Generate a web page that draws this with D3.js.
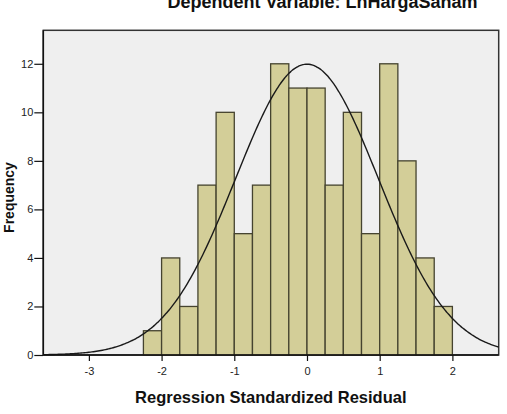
<!DOCTYPE html>
<html>
<head>
<meta charset="utf-8">
<script src="https://cdn.jsdelivr.net/npm/d3@7"></script>
<style>
  html, body { margin: 0; padding: 0; background: #ffffff; }
  svg { display: block; font-family: "Liberation Sans", Arial, sans-serif; }
</style>
</head>
<body>
<svg id="chart" width="507" height="414"></svg>
<script>
// ---- data ----
const binStarts = [-2.25, -2.0, -1.75, -1.5, -1.25, -1.0, -0.75, -0.5, -0.25, 0.0, 0.25, 0.5, 0.75, 1.0, 1.25, 1.5, 1.75];
const counts    = [1, 4, 2, 7, 10, 5, 7, 12, 11, 11, 7, 10, 5, 12, 8, 4, 2];
const binWidth  = 0.25;
const xTicks    = [-3, -2, -1, 0, 1, 2];
const yTicks    = [0, 2, 4, 6, 8, 10, 12];
const fitMean   = 0.0;
const fitSd     = 0.982;
const fitN      = 118;
const titleText = "Dependent Variable: LnHargaSaham";
const xLabel    = "Regression Standardized Residual";
const yLabel    = "Frequency";

// ---- layout ----
const svg = d3.select("#chart");
const pL = 43.3, pR = 498.7, pT = 30.3, pB = 355;

const x = d3.scaleLinear().domain([-3.627, 2.637]).range([pL, pR]);
const y = d3.scaleLinear().domain([0, 13.38]).range([pB, pT]);

// plot background + frame
svg.append("rect")
  .attr("x", pL).attr("y", pT)
  .attr("width", pR - pL).attr("height", pB - pT)
  .attr("fill", "#efefef")
  .attr("stroke", "#333333").attr("stroke-width", 1.5);

// bars
svg.append("g").selectAll("rect")
  .data(binStarts.map((b, i) => ({ b, c: counts[i] })))
  .join("rect")
  .attr("x", d => x(d.b))
  .attr("y", d => y(d.c))
  .attr("width", d => x(d.b + binWidth) - x(d.b))
  .attr("height", d => y(0) - y(d.c))
  .attr("fill", "#d3ce98")
  .attr("stroke", "#45432f")
  .attr("stroke-width", 1.3);

// normal curve from fitted parameters
const [dx0, dx1] = x.domain();
const curvePts = d3.range(0, 301).map(i => {
  const v = dx0 + (dx1 - dx0) * i / 300;
  const dens = Math.exp(-((v - fitMean) ** 2) / (2 * fitSd * fitSd)) / (fitSd * Math.sqrt(2 * Math.PI));
  return [v, dens * fitN * binWidth];
});
svg.append("path")
  .datum(curvePts)
  .attr("fill", "none")
  .attr("stroke", "#1a1a1a")
  .attr("stroke-width", 1.4)
  .attr("d", d3.line().x(d => x(d[0])).y(d => y(d[1])).curve(d3.curveBasis));

// axes
const fmt = d => String(d);
const xAxis = svg.append("g")
  .attr("transform", `translate(0,${pB})`)
  .call(d3.axisBottom(x).tickValues(xTicks).tickFormat(fmt).tickSize(6).tickPadding(6).tickSizeOuter(0));
const yAxis = svg.append("g")
  .attr("transform", `translate(${pL},0)`)
  .call(d3.axisLeft(y).tickValues(yTicks).tickFormat(fmt).tickSize(9).tickPadding(1).tickSizeOuter(0));

[xAxis, yAxis].forEach(g => {
  g.select(".domain").attr("stroke", "#111").attr("stroke-width", 1.5);
  g.selectAll(".tick line").attr("stroke", "#111").attr("stroke-width", 1.2);
  g.selectAll(".tick text").attr("fill", "#222").style("font-size", "11px")
    .style("font-family", "'Liberation Sans', Arial, sans-serif");
});
xAxis.select(".domain").attr("d", `M${pL},0H${pR}`);
yAxis.select(".domain").attr("d", `M0,${pT}V${pB}`);

// texts
svg.append("text")
  .attr("x", 322.5).attr("y", 7.5)
  .attr("text-anchor", "middle")
  .style("font-weight", "bold").style("font-size", "18px")
  .attr("fill", "#111")
  .text(titleText);

svg.append("text")
  .attr("x", 270.8).attr("y", 402.5)
  .attr("text-anchor", "middle")
  .style("font-weight", "bold").style("font-size", "16.5px")
  .attr("fill", "#111")
  .text(xLabel);

svg.append("text")
  .attr("transform", "translate(13.5,197.5) rotate(-90)")
  .attr("text-anchor", "middle")
  .style("font-weight", "bold").style("font-size", "14px")
  .attr("fill", "#111")
  .text(yLabel);
</script>
</body>
</html>
